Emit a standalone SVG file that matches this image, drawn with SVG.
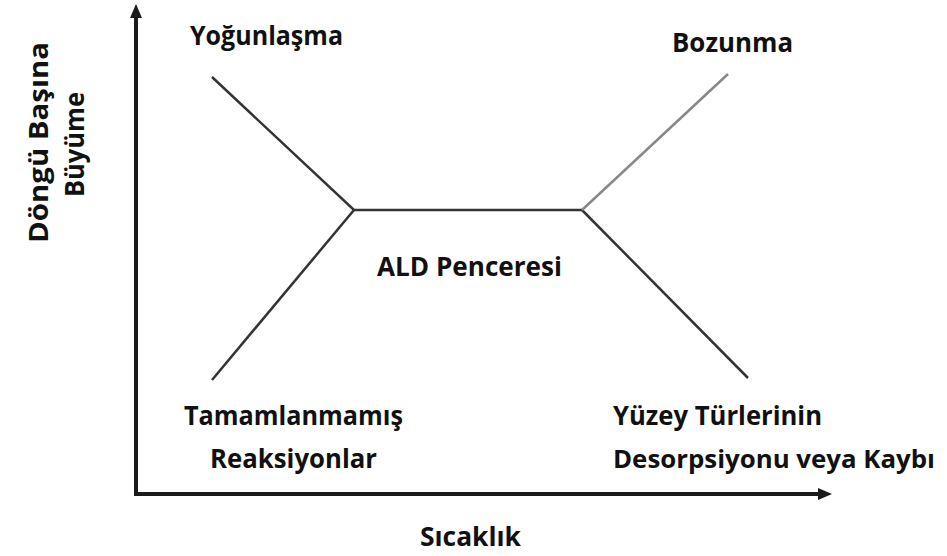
<svg xmlns="http://www.w3.org/2000/svg" width="947" height="556" viewBox="0 0 947 556">
<style>
.t{font-family:"Open Sans","Liberation Sans",sans-serif;font-weight:700;font-size:27px;fill:#111}
.ln{stroke:#333;stroke-width:2.5;fill:none}
.ax{stroke:#1a1a1a;stroke-width:4;fill:none}
</style>
<defs>
<marker id="ah" markerWidth="14" markerHeight="12" refX="2" refY="6" orient="auto" markerUnits="userSpaceOnUse">
<path d="M0,0 L14,6 L0,12 Z" fill="#1a1a1a"/>
</marker>
</defs>
<rect width="947" height="556" fill="#fff"/>
<g id="connectors">
<path class="ax" d="M136,494 L136,16" marker-end="url(#ah)"/>
<path class="ax" d="M134,494 L820,494" marker-end="url(#ah)"/>
<path class="ln" d="M212,77 L354,210 L582,210"/>
<path class="ln" d="M354,210 L212,380"/>
<path class="ln" d="M582,210 L748,378"/>
<path d="M582,210 L728,74" stroke="#888" stroke-width="2.5" fill="none"/>
</g>
<g id="yogunlasma"><text class="t" x="190" y="45" textLength="153" lengthAdjust="spacingAndGlyphs">Yoğunlaşma</text></g>
<g id="bozunma"><text class="t" x="672" y="52" textLength="121" lengthAdjust="spacingAndGlyphs">Bozunma</text></g>
<g id="ald"><text class="t" x="377" y="276" textLength="185" lengthAdjust="spacingAndGlyphs">ALD Penceresi</text></g>
<g id="tamamlanmamis">
<text class="t" x="184" y="425" textLength="219" lengthAdjust="spacingAndGlyphs">Tamamlanmamış</text>
<text class="t" x="210" y="468" textLength="167" lengthAdjust="spacingAndGlyphs">Reaksiyonlar</text>
</g>
<g id="yuzey">
<text class="t" x="613" y="425" textLength="209" lengthAdjust="spacingAndGlyphs">Yüzey Türlerinin</text>
<text class="t" x="613" y="468" font-size="24" textLength="322" lengthAdjust="spacingAndGlyphs" style="font-size:24.5px">Desorpsiyonu veya Kaybı</text>
</g>
<g id="sicaklik"><text class="t" x="420" y="546" textLength="101" lengthAdjust="spacingAndGlyphs">Sıcaklık</text></g>
<g id="ylabel">
<text class="t" transform="translate(48,243) rotate(-90)" textLength="201" lengthAdjust="spacingAndGlyphs">Döngü Başına</text>
<text class="t" transform="translate(84,197) rotate(-90)" textLength="105" lengthAdjust="spacingAndGlyphs">Büyüme</text>
</g>
</svg>
